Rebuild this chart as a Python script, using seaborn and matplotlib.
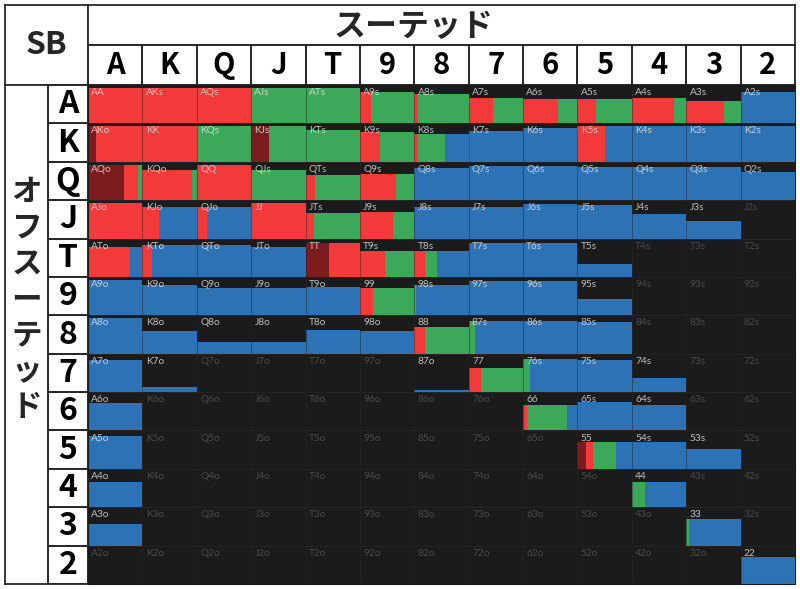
import numpy as np
import matplotlib
matplotlib.use("Agg")
import matplotlib.pyplot as plt
from matplotlib.colors import ListedColormap
import seaborn as sns


# ----------------------------------------------------------
# Chart data (rows = first rank, cols = second rank)
# upper triangle = suited, lower = offsuit, diagonal = pairs
# ----------------------------------------------------------
RANKS = ["A", "K", "Q", "J", "T", "9", "8", "7", "6", "5", "4", "3", "2"]
CORNER_TITLE = "SB"
SUITED_TITLE = "スーテッド"
OFFSUIT_TITLE = "オフスーテッド"

# hand weight, % of full cell height
WEIGHT = [
    [100, 100, 100, 100, 100, 88, 82, 72, 70, 69, 72, 63, 88],
    [100, 100, 100, 100, 90, 84, 80, 88, 95, 100, 100, 100, 100],
    [100, 85, 100, 85, 70, 73, 92, 97, 97, 95, 95, 94, 80],
    [100, 88, 90, 100, 71, 75, 89, 90, 98, 95, 70, 51, 0],
    [86, 91, 91, 86, 97, 72, 72, 96, 95, 36, 0, 0, 0],
    [100, 87, 77, 76, 79, 77, 87, 96, 96, 46, 0, 0, 0],
    [100, 63, 32, 32, 68, 63, 76, 92, 92, 90, 0, 0, 0],
    [90, 15, 0, 0, 0, 0, 6, 69, 93, 90, 41, 0, 0],
    [79, 0, 0, 0, 0, 0, 0, 0, 71, 80, 71, 0, 0],
    [94, 0, 0, 0, 0, 0, 0, 0, 0, 76, 76, 57, 0],
    [72, 0, 0, 0, 0, 0, 0, 0, 0, 0, 72, 0, 0],
    [61, 0, 0, 0, 0, 0, 0, 0, 0, 0, 0, 75, 0],
    [0, 0, 0, 0, 0, 0, 0, 0, 0, 0, 0, 0, 76],
]

# action frequencies in % (left to right inside each cell)
DARK_RED = [
    [0, 0, 0, 0, 0, 0, 0, 0, 0, 0, 0, 0, 0],
    [15, 0, 0, 32, 0, 0, 0, 0, 0, 0, 0, 0, 0],
    [66, 0, 0, 0, 0, 0, 0, 0, 0, 0, 0, 0, 0],
    [0, 0, 0, 0, 0, 0, 0, 0, 0, 0, 0, 0, 0],
    [0, 0, 0, 0, 43, 0, 0, 0, 0, 0, 0, 0, 0],
    [0, 0, 0, 0, 0, 0, 0, 0, 0, 0, 0, 0, 0],
    [0, 0, 0, 0, 0, 0, 0, 0, 0, 0, 0, 0, 0],
    [0, 0, 0, 0, 0, 0, 0, 0, 0, 0, 0, 0, 0],
    [0, 0, 0, 0, 0, 0, 0, 0, 0, 0, 0, 0, 0],
    [0, 0, 0, 0, 0, 0, 0, 0, 0, 16, 0, 0, 0],
    [0, 0, 0, 0, 0, 0, 0, 0, 0, 0, 0, 0, 0],
    [0, 0, 0, 0, 0, 0, 0, 0, 0, 0, 0, 0, 0],
    [0, 0, 0, 0, 0, 0, 0, 0, 0, 0, 0, 0, 0],
]
RED = [
    [100, 100, 100, 0, 0, 20, 6, 45, 65, 35, 77, 70, 0],
    [85, 100, 0, 0, 0, 36, 7, 0, 0, 50, 0, 0, 0],
    [26, 92, 100, 0, 17, 67, 0, 0, 0, 0, 0, 0, 0],
    [100, 30, 19, 100, 15, 60, 0, 0, 0, 0, 0, 0, 0],
    [78, 18, 0, 0, 57, 47, 19, 0, 0, 0, 0, 0, 0],
    [0, 0, 0, 0, 0, 24, 0, 0, 0, 0, 0, 0, 0],
    [0, 0, 0, 0, 0, 0, 20, 0, 0, 0, 0, 0, 0],
    [0, 0, 0, 0, 0, 0, 0, 23, 0, 0, 0, 0, 0],
    [0, 0, 0, 0, 0, 0, 0, 0, 8, 0, 0, 0, 0],
    [0, 0, 0, 0, 0, 0, 0, 0, 0, 12, 0, 0, 0],
    [0, 0, 0, 0, 0, 0, 0, 0, 0, 0, 0, 0, 0],
    [0, 0, 0, 0, 0, 0, 0, 0, 0, 0, 0, 0, 0],
    [0, 0, 0, 0, 0, 0, 0, 0, 0, 0, 0, 0, 0],
]
GREEN = [
    [0, 0, 0, 100, 100, 80, 94, 55, 35, 65, 23, 30, 0],
    [0, 0, 100, 68, 100, 64, 50, 3, 0, 0, 0, 0, 0],
    [8, 8, 0, 100, 83, 33, 0, 0, 0, 0, 0, 0, 0],
    [0, 0, 0, 0, 85, 40, 0, 0, 0, 0, 0, 0, 0],
    [0, 0, 0, 0, 0, 53, 22, 0, 0, 0, 0, 0, 0],
    [0, 0, 0, 0, 0, 76, 3, 0, 0, 0, 0, 0, 0],
    [0, 0, 0, 0, 0, 0, 80, 12, 0, 0, 0, 0, 0],
    [0, 0, 0, 0, 0, 0, 0, 77, 12, 0, 0, 0, 0],
    [0, 0, 0, 0, 0, 0, 0, 0, 73, 0, 0, 0, 0],
    [0, 0, 0, 0, 0, 0, 0, 0, 0, 42, 0, 0, 0],
    [0, 0, 0, 0, 0, 0, 0, 0, 0, 0, 24, 0, 0],
    [0, 0, 0, 0, 0, 0, 0, 0, 0, 0, 0, 5, 0],
    [0, 0, 0, 0, 0, 0, 0, 0, 0, 0, 0, 0, 0],
]
BLUE = [
    [0, 0, 0, 0, 0, 0, 0, 0, 0, 0, 0, 0, 100],
    [0, 0, 0, 0, 0, 0, 43, 97, 100, 50, 100, 100, 100],
    [0, 0, 0, 0, 0, 0, 100, 100, 100, 100, 100, 100, 100],
    [0, 70, 81, 0, 0, 0, 100, 100, 100, 100, 100, 100, 0],
    [22, 82, 100, 100, 0, 0, 59, 100, 100, 100, 0, 0, 0],
    [100, 100, 100, 100, 100, 0, 97, 100, 100, 100, 0, 0, 0],
    [100, 100, 100, 100, 100, 100, 0, 88, 100, 100, 0, 0, 0],
    [100, 100, 0, 0, 0, 0, 100, 0, 88, 100, 100, 0, 0],
    [100, 0, 0, 0, 0, 0, 0, 0, 19, 100, 100, 0, 0],
    [100, 0, 0, 0, 0, 0, 0, 0, 0, 30, 100, 100, 0],
    [100, 0, 0, 0, 0, 0, 0, 0, 0, 0, 76, 0, 0],
    [100, 0, 0, 0, 0, 0, 0, 0, 0, 0, 0, 95, 0],
    [0, 0, 0, 0, 0, 0, 0, 0, 0, 0, 0, 0, 100],
]

ACTIONS = [
    (DARK_RED, "#7c1b1d"),
    (RED, "#f23a3a"),
    (GREEN, "#3ca95a"),
    (BLUE, "#2e72b6"),
]


def hand_name(i, j):
    if i == j:
        return RANKS[i] * 2
    if i < j:
        return RANKS[i] + RANKS[j] + "s"
    return RANKS[j] + RANKS[i] + "o"


# ----------------------------------------------------------
# Figure setup
# ----------------------------------------------------------
sns.set_style("white")
plt.rcParams["font.family"] = ["Noto Sans CJK JP", "DejaVu Sans"]

W_PX, H_PX = 800, 589
fig = plt.figure(figsize=(W_PX / 100, H_PX / 100), dpi=100)
fig.patch.set_facecolor("white")

LINE = "#2a2a2a"


def box(x0, y0, x1, y1):
    return fig.add_axes([x0 / W_PX, 1 - y1 / H_PX,
                         (x1 - x0) / W_PX, (y1 - y0) / H_PX])


def frame(ax, color=LINE, lw=1.3):
    ax.set_xticks([])
    ax.set_yticks([])
    for s in ax.spines.values():
        s.set_visible(True)
        s.set_color(color)
        s.set_linewidth(lw)


white = ListedColormap(["white"])

# ----------------------------------------------------------
# Header boxes
# ----------------------------------------------------------
ax_sb = box(5, 5, 88, 85)
ax_sb.text(0.5, 0.5, CORNER_TITLE, ha="center", va="center",
           fontsize=23, fontweight="bold", transform=ax_sb.transAxes)
frame(ax_sb)

ax_suited = box(88, 5, 795, 45)
ax_suited.text(0.46, 0.45, SUITED_TITLE, ha="center", va="center",
               fontsize=23, fontweight="bold", transform=ax_suited.transAxes)
frame(ax_suited)

ax_off = box(5, 85, 48, 584)
ax_off.text(0.5, 0.57, "\n".join(OFFSUIT_TITLE), ha="center", va="center",
            fontsize=22, fontweight="bold", linespacing=1.15,
            transform=ax_off.transAxes)
frame(ax_off)

ax_cols = box(88, 45, 795, 85)
sns.heatmap(np.zeros((1, 13)), ax=ax_cols, cmap=white, vmin=0, vmax=1,
            cbar=False, annot=np.array([RANKS]), fmt="",
            annot_kws=dict(fontsize=21, fontweight="bold", color="black"),
            linewidths=1.3, linecolor=LINE,
            xticklabels=False, yticklabels=False)
frame(ax_cols)

ax_rows = box(48, 85, 88, 584)
sns.heatmap(np.zeros((13, 1)), ax=ax_rows, cmap=white, vmin=0, vmax=1,
            cbar=False, annot=np.array([[r] for r in RANKS]), fmt="",
            annot_kws=dict(fontsize=23, fontweight="bold", color="black"),
            linewidths=1.3, linecolor=LINE,
            xticklabels=False, yticklabels=False)
frame(ax_rows)

# ----------------------------------------------------------
# Range grid
# ----------------------------------------------------------
ax = box(88, 85, 795, 584)
sns.heatmap(np.zeros((13, 13)), ax=ax, cmap=ListedColormap(["#1b1b1b"]),
            vmin=0, vmax=1, cbar=False, linewidths=0.6, linecolor="#242424",
            xticklabels=False, yticklabels=False)

FULL = 0.92  # share of the cell a 100% hand fills

for i in range(13):
    for j in range(13):
        w = WEIGHT[i][j]
        if w > 0:
            h = FULL * w / 100
            left = j
            for values, color in ACTIONS:
                f = values[i][j] / 100
                if f > 0:
                    ax.bar(left, h, width=f, bottom=i + 1 - h, align="edge",
                           color=color, linewidth=0)
                    left += f
        ax.text(j + 0.06, i + 0.08, hand_name(i, j), ha="left", va="top",
                fontsize=7.3, family=["Lato", "DejaVu Sans"],
                color="#e8e8e8" if w > 0 else "#4a4a4a",
                alpha=0.8 if w > 0 else 1.0)

ax.vlines(np.arange(1, 13), 0, 13, colors="#1b1b1b", linewidth=0.5, alpha=0.6)
ax.set_xlim(0, 13)
ax.set_ylim(13, 0)
frame(ax, color="#1b1b1b", lw=0.8)

fig.savefig("out.png", dpi=100, facecolor="white")
plt.close(fig)
